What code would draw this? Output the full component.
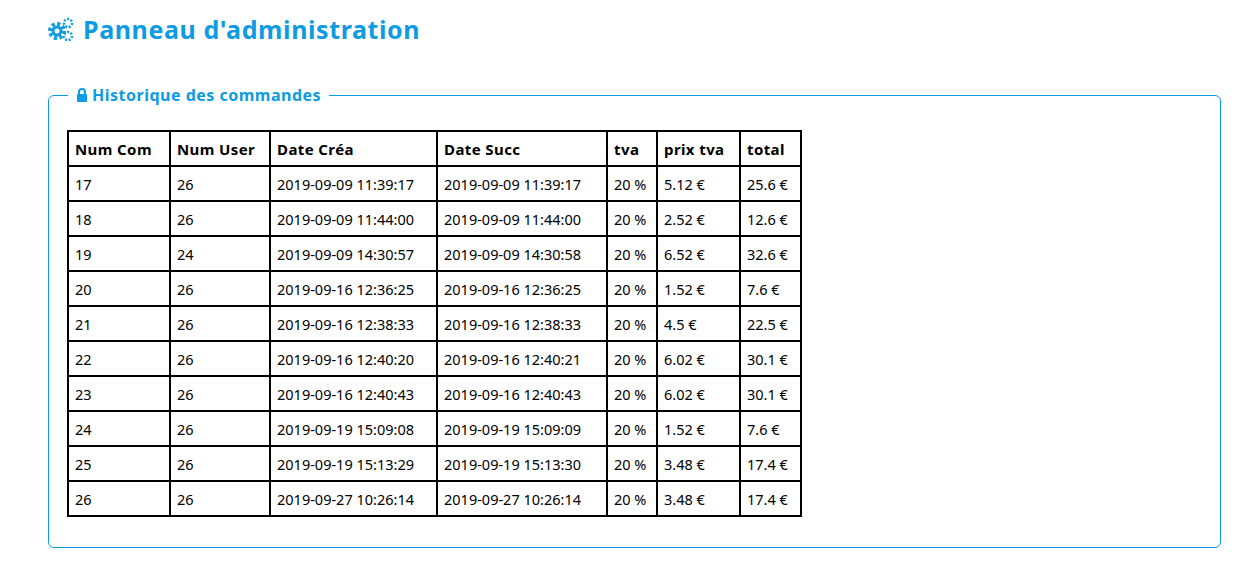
import React from "react";

const headers = ["Num Com", "Num User", "Date Créa", "Date Succ", "tva", "prix tva", "total"];
const numCom = ["17", "18", "19", "20", "21", "22", "23", "24", "25", "26"];
const numUser = ["26", "26", "24", "26", "26", "26", "26", "26", "26", "26"];
const dateCrea = [
  "2019-09-09 11:39:17", "2019-09-09 11:44:00", "2019-09-09 14:30:57", "2019-09-16 12:36:25",
  "2019-09-16 12:38:33", "2019-09-16 12:40:20", "2019-09-16 12:40:43", "2019-09-19 15:09:08",
  "2019-09-19 15:13:29", "2019-09-27 10:26:14",
];
const dateSucc = [
  "2019-09-09 11:39:17", "2019-09-09 11:44:00", "2019-09-09 14:30:58", "2019-09-16 12:36:25",
  "2019-09-16 12:38:33", "2019-09-16 12:40:21", "2019-09-16 12:40:43", "2019-09-19 15:09:09",
  "2019-09-19 15:13:30", "2019-09-27 10:26:14",
];
const tva = ["20 %", "20 %", "20 %", "20 %", "20 %", "20 %", "20 %", "20 %", "20 %", "20 %"];
const prixTva = ["5.12 €", "2.52 €", "6.52 €", "1.52 €", "4.5 €", "6.02 €", "6.02 €", "1.52 €", "3.48 €", "3.48 €"];
const total = ["25.6 €", "12.6 €", "32.6 €", "7.6 €", "22.5 €", "30.1 €", "30.1 €", "7.6 €", "17.4 €", "17.4 €"];

const colWidths = [102, 100, 167, 170, 50, 83, 61];
const blue = "#0d9be3";

const cell: React.CSSProperties = {
  border: "2px solid #000",
  height: 31,
  padding: "0 0 0 6px",
  textAlign: "left",
  whiteSpace: "nowrap",
  boxSizing: "border-box",
};

export default function App() {
  const rows = numCom.map((_, i) => [numCom[i], numUser[i], dateCrea[i], dateSucc[i], tva[i], prixTva[i], total[i]]);
  return (
    <div style={{ position: "relative", width: 1229, height: 556, fontFamily: "'Noto Sans', sans-serif", color: "#000", margin: -8 }}>
      <div style={{ position: "absolute", left: 47, top: 12, display: "flex", alignItems: "center", color: blue, fontSize: 25, fontWeight: 700, letterSpacing: 0.6 }}>
        <svg width="28" height="26" viewBox="0 0 28 26" style={{ marginRight: 8 }}>
          <circle cx="10" cy="15" r="7" fill="none" stroke={blue} strokeWidth="4" strokeDasharray="3 2.5" />
          <circle cx="10" cy="15" r="4" fill="none" stroke={blue} strokeWidth="3" />
          <circle cx="21" cy="7" r="4" fill="none" stroke={blue} strokeWidth="2.5" strokeDasharray="2 1.5" />
          <circle cx="21" cy="20" r="4" fill="none" stroke={blue} strokeWidth="2.5" strokeDasharray="2 1.5" />
        </svg>
        Panneau d'administration
      </div>
      <div style={{ position: "absolute", left: 48, top: 95, width: 1173, height: 453, border: `1px solid ${blue}`, borderRadius: 6, boxSizing: "border-box" }} />
      <div style={{ position: "absolute", left: 68, top: 84, background: "#fff", padding: "0 8px", display: "flex", alignItems: "center", color: blue, fontSize: 16, fontWeight: 700, letterSpacing: 0.5 }}>
        <svg width="12" height="14" viewBox="0 0 12 14" style={{ marginRight: 4 }}>
          <path d="M3 6V4a3 3 0 0 1 6 0v2" fill="none" stroke={blue} strokeWidth="2" />
          <rect x="1" y="6" width="10" height="8" rx="1" fill={blue} />
        </svg>
        Historique des commandes
      </div>
      <table style={{ position: "absolute", left: 67, top: 130, borderCollapse: "collapse", fontSize: 15, tableLayout: "fixed", width: 735 }}>
        <colgroup>{colWidths.map((w, i) => <col key={i} style={{ width: w }} />)}</colgroup>
        <thead>
          <tr>{headers.map((h) => <th key={h} style={{ ...cell, height: 35, fontWeight: 700, letterSpacing: 0.4 }}>{h}</th>)}</tr>
        </thead>
        <tbody>
          {rows.map((r, i) => (
            <tr key={i}>{r.map((v, j) => <td key={j} style={{ ...cell, height: 35, fontSize: 14.5 }}>{v}</td>)}</tr>
          ))}
        </tbody>
      </table>
    </div>
  );
}
